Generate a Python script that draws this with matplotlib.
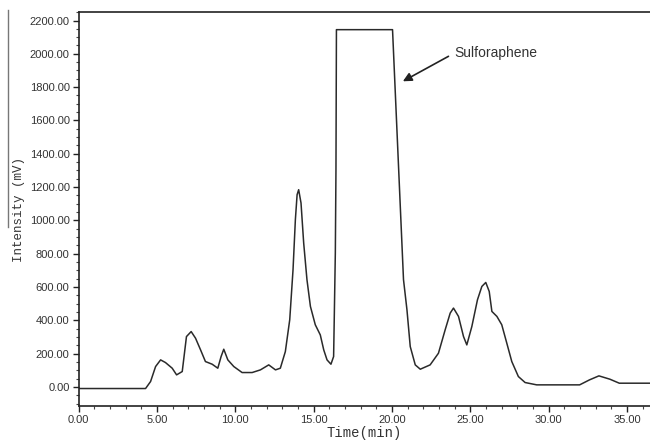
import matplotlib
matplotlib.use("Agg")
import matplotlib.pyplot as plt
from matplotlib.ticker import MultipleLocator, FormatStrFormatter
from matplotlib.lines import Line2D

# Chromatogram trace
time_min = [0.0, 4.27, 4.59, 4.91, 5.23, 5.54, 5.97, 6.25, 6.61, 6.88,
            7.18, 7.46, 7.78, 8.09, 8.52, 8.88, 9.09, 9.26, 9.52, 9.9,
            10.43, 11.07, 11.6, 12.13, 12.56, 12.87, 13.19, 13.47, 13.68,
            13.83, 13.94, 14.04, 14.19, 14.36, 14.57, 14.79, 15.1, 15.42,
            15.64, 15.85, 16.1, 16.27, 16.31, 16.38, 16.42, 16.45,
            20.03, 20.73, 20.95, 21.16, 21.48, 21.8, 22.43, 22.96, 23.39,
            23.71, 23.92, 24.24, 24.56, 24.77, 25.09, 25.45, 25.73, 25.98,
            26.2, 26.37, 26.69, 27.0, 27.32, 27.64, 28.06, 28.49, 29.23,
            31.97, 32.6, 33.2, 33.9, 34.5, 36.5]
intensity_mv = [-10, -10, 32, 122, 162, 146, 112, 72, 92, 302,
                332, 292, 222, 152, 136, 112, 182, 226, 162, 122,
                86, 86, 102, 132, 102, 112, 212, 403, 703,
                1004, 1154, 1184, 1104, 864, 643, 483, 373, 312,
                222, 162, 136, 182, 403, 805, 1304, 2145,
                2145, 644, 463, 242, 132, 106, 132, 202, 343,
                443, 473, 423, 302, 252, 362, 523, 603, 627,
                573, 453, 423, 373, 263, 152, 62, 26, 12,
                12, 42, 66, 46, 22, 22]

x_ticks = [0, 5, 10, 15, 20, 25, 30, 35]
y_ticks = [0, 200, 400, 600, 800, 1000, 1200, 1400, 1600, 1800, 2000, 2200]

peak_label = "Sulforaphene"
peak_label_xy = (24.0, 2005)
arrow_tip_xy = (20.69, 1835)
arrow_tail_xy = (23.6, 1985)

fig = plt.figure(figsize=(6.5, 4.43), dpi=100)
ax = fig.add_axes([0.121, 0.0835, 0.879, 0.889])

ax.plot(time_min, intensity_mv, color="#2a2a2a", lw=1.1)

ax.set_xlim(0, 36.46)
ax.set_ylim(-115, 2250)
ax.set_xticks(x_ticks)
ax.set_yticks(y_ticks)
ax.xaxis.set_minor_locator(MultipleLocator(1))
ax.yaxis.set_minor_locator(MultipleLocator(50))
ax.xaxis.set_major_formatter(FormatStrFormatter("%.2f"))
ax.yaxis.set_major_formatter(FormatStrFormatter("%.2f"))
ax.tick_params(axis="both", which="major", direction="out", length=4, width=1,
               labelsize=8, colors="#222222", labelcolor="#333333", pad=2.5)
ax.tick_params(axis="both", which="minor", direction="out", length=2, width=0.8,
               colors="#444444")
for lab in ax.get_xticklabels() + ax.get_yticklabels():
    lab.set_family("Liberation Sans")

ax.spines["right"].set_visible(False)
for s in ["left", "top", "bottom"]:
    ax.spines[s].set_linewidth(1.2)
    ax.spines[s].set_color("#222222")

ax.set_xlabel("Time(min)", family="Liberation Mono", fontsize=10, color="#333333",
              labelpad=1)
ax.set_ylabel("Intensity (mV)", family="Liberation Mono", fontsize=9, color="#333333",
              labelpad=3)

ax.annotate("", xy=arrow_tip_xy, xytext=arrow_tail_xy,
            arrowprops=dict(arrowstyle="-|>", color="#222222", lw=1.2,
                            mutation_scale=13, shrinkA=0, shrinkB=0))
ax.text(peak_label_xy[0], peak_label_xy[1], peak_label, fontsize=10,
        family="Liberation Sans", color="#333333", va="center", ha="left")

# stray vertical rule at the far left of the original image
fig.add_artist(Line2D([8 / 650, 8 / 650], [1 - 10 / 443, 1 - 227 / 443],
                      transform=fig.transFigure, color="#777777", lw=1))

fig.savefig("out.png", dpi=100)
